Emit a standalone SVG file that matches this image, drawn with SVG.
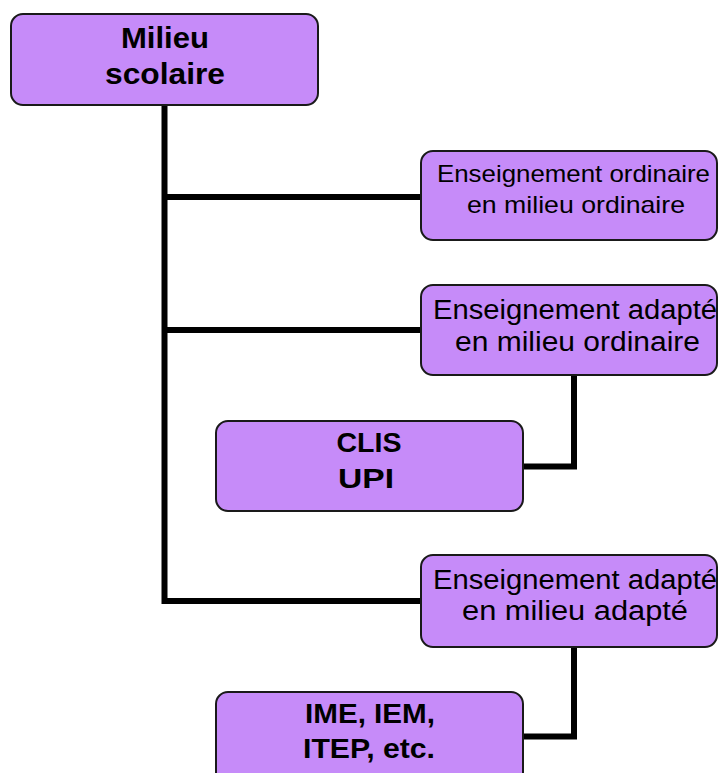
<svg xmlns="http://www.w3.org/2000/svg" width="719" height="773" viewBox="0 0 719 773">
<style>
.box{fill:#C68BF9;stroke:#1a1a1a;stroke-width:2}
.conn{fill:none;stroke:#000;stroke-width:6;stroke-linejoin:miter;stroke-linecap:butt}
.b{font-family:"Liberation Sans",Arial,sans-serif;font-weight:bold;fill:#000;text-anchor:middle}
.r{font-family:"Liberation Sans",Arial,sans-serif;fill:#000;text-anchor:middle}
</style>
<rect width="719" height="773" fill="#fff"/>
<g id="connectors">
<polyline class="conn" points="164.5,105 164.5,601 421,601"/>
<line class="conn" x1="164.5" y1="197" x2="421" y2="197"/>
<line class="conn" x1="164.5" y1="330" x2="421" y2="330"/>
<polyline class="conn" points="574,375 574,466.5 523,466.5"/>
<polyline class="conn" points="574,647 574,736.5 523,736.5"/>
</g>
<g id="milieu-scolaire">
<rect class="box" x="11" y="14" width="307" height="91" rx="12"/>
<text class="b" x="165" y="48" font-size="30" textLength="88" lengthAdjust="spacingAndGlyphs">Milieu</text>
<text class="b" x="165" y="84" font-size="30" textLength="120" lengthAdjust="spacingAndGlyphs">scolaire</text>
</g>
<g id="ens-ord-milieu-ord">
<rect class="box" x="421" y="151" width="296" height="89" rx="12"/>
<text class="r" x="573.5" y="181.5" font-size="24" textLength="273" lengthAdjust="spacingAndGlyphs">Enseignement ordinaire</text>
<text class="r" x="576" y="213" font-size="24" textLength="218" lengthAdjust="spacingAndGlyphs">en milieu ordinaire</text>
</g>
<g id="ens-adapte-milieu-ord">
<rect class="box" x="421" y="285" width="296" height="90" rx="12"/>
<text class="r" x="575" y="319" font-size="27" textLength="284" lengthAdjust="spacingAndGlyphs">Enseignement adapté</text>
<text class="r" x="577.5" y="351" font-size="27" textLength="245" lengthAdjust="spacingAndGlyphs">en milieu ordinaire</text>
</g>
<g id="clis-upi">
<rect class="box" x="216" y="421" width="307" height="90" rx="12"/>
<text class="b" x="369" y="452" font-size="28" textLength="65" lengthAdjust="spacingAndGlyphs">CLIS</text>
<text class="b" x="366" y="488" font-size="28" textLength="56" lengthAdjust="spacingAndGlyphs">UPI</text>
</g>
<g id="ens-adapte-milieu-adapte">
<rect class="box" x="421" y="555" width="296" height="92" rx="12"/>
<text class="r" x="575" y="589" font-size="27" textLength="284" lengthAdjust="spacingAndGlyphs">Enseignement adapté</text>
<text class="r" x="575" y="620" font-size="27" textLength="226" lengthAdjust="spacingAndGlyphs">en milieu adapté</text>
</g>
<g id="ime-iem-itep">
<rect class="box" x="216" y="692" width="307" height="92" rx="12"/>
<text class="b" x="370" y="723" font-size="28" textLength="130" lengthAdjust="spacingAndGlyphs">IME, IEM,</text>
<text class="b" x="369" y="758" font-size="28" textLength="132" lengthAdjust="spacingAndGlyphs">ITEP, etc.</text>
</g>
</svg>
